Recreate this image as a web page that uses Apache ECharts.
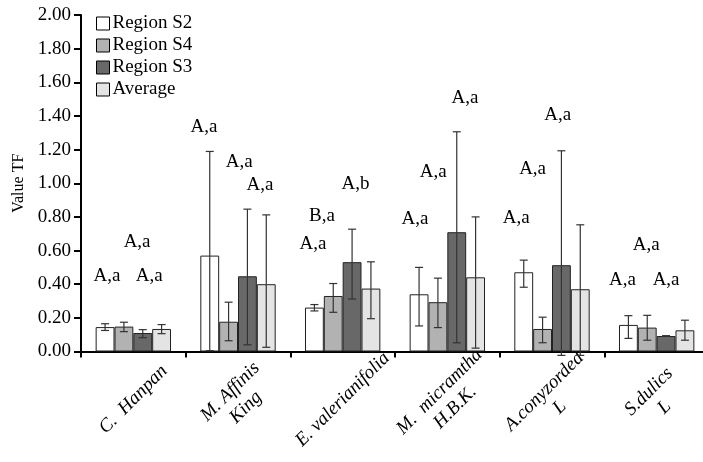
<!DOCTYPE html>
<html>
<head>
<meta charset="utf-8">
<script src="https://cdn.jsdelivr.net/npm/echarts@6/dist/echarts.min.js"></script>
<style>html,body{margin:0;padding:0;background:#fff;}#c{width:703px;height:462px;}</style>
</head>
<body>
<div id="c"></div>
<script>
const categories = ['C.  Hanpan', 'M. Affinis\nKing', 'E. valerianifolia', 'M.  micramtha\nH.B.K.', 'A.conyzorded\nL', 'S.dulics\nL'];
const seriesNames = ['Region S2', 'Region S4', 'Region S3', 'Average'];
const yTicks = [0, 0.2, 0.4, 0.6, 0.8, 1.0, 1.2, 1.4, 1.6, 1.8, 2.0];

const s2 = [0.145, 0.570, 0.261, 0.340, 0.471, 0.158];
const s2Low = [0.125, 0.005, 0.241, 0.152, 0.382, 0.078];
const s2High = [0.165, 1.189, 0.279, 0.500, 0.543, 0.213];
const s4 = [0.148, 0.177, 0.330, 0.293, 0.134, 0.142];
const s4Low = [0.118, 0.064, 0.233, 0.142, 0.052, 0.067];
const s4High = [0.174, 0.293, 0.404, 0.436, 0.204, 0.215];
const s3 = [0.110, 0.447, 0.531, 0.709, 0.513, 0.092];
const s3Low = [0.082, 0.040, 0.312, 0.052, -0.023, 0.090];
const s3High = [0.130, 0.846, 0.727, 1.306, 1.193, 0.094];
const avg = [0.134, 0.400, 0.374, 0.441, 0.370, 0.126];
const avgLow = [0.106, 0.025, 0.195, 0.020, -0.023, 0.067];
const avgHigh = [0.160, 0.812, 0.533, 0.800, 0.753, 0.186];

const annoText = ['A,a','A,a','A,a', 'A,a','A,a','A,a', 'A,a','B,a','A,b', 'A,a','A,a','A,a', 'A,a','A,a','A,a', 'A,a','A,a','A,a'];
const annoCat = [0,0,0, 1,1,1, 2,2,2, 3,3,3, 4,4,4, 5,5,5];
const annoSlot = [0.1,1.7,2.34, -0.31,1.56,2.67, -0.08,0.4,2.18, -0.22,0.75,2.44, -0.4,0.47,1.8, -0.31,0.95,2.0];
const annoValue = [0.449,0.652,0.449, 1.336,1.128,0.991, 0.64,0.808,0.996, 0.789,1.064,1.507, 0.793,1.086,1.408, 0.426,0.634,0.426];

const values = [s2, s4, s3, avg];
const lows = [s2Low, s4Low, s3Low, avgLow];
const highs = [s2High, s4High, s3High, avgHigh];
const colors = ['#ffffff', '#b2b2b2', '#686868', '#e4e4e4'];
const FONT = '"Liberation Serif", "Times New Roman", serif';
const GAP = 0.28;

const errData = [];
for (let s = 0; s < 4; s++) {
  for (let i = 0; i < categories.length; i++) {
    errData.push([i, lows[s][i], highs[s][i], s]);
  }
}
const annoData = annoCat.map((c, k) => [c, annoValue[k], annoSlot[k]]);

const chart = echarts.init(document.getElementById('c'), null, {renderer: 'canvas'});
const series = seriesNames.map((n, s) => ({
  name: n,
  type: 'bar',
  data: values[s],
  barGap: 0,
  barCategoryGap: (GAP * 100) + '%',
  itemStyle: {color: colors[s], borderColor: '#222', borderWidth: 1},
  emphasis: {disabled: true},
  animation: false
}));
series.push({
  type: 'custom',
  name: 'err',
  data: errData,
  clip: false,
  z: 5,
  encode: {x: 0, y: [1, 2]},
  renderItem: function (params, api) {
    const cat = api.value(0);
    const band = api.size([1, 0])[0];
    const bw = band * (1 - GAP) / 4;
    const slot = api.value(3);
    const base = api.coord([cat, 0]);
    const x = base[0] + (slot - 1.5) * bw;
    const yLo = api.coord([cat, api.value(1)])[1];
    const yHi = api.coord([cat, api.value(2)])[1];
    const cap = 4;
    const st = {stroke: '#333', lineWidth: 1.2};
    return {
      type: 'group',
      children: [
        {type: 'line', shape: {x1: x, y1: yLo, x2: x, y2: yHi}, style: st},
        {type: 'line', shape: {x1: x - cap, y1: yHi, x2: x + cap, y2: yHi}, style: st},
        {type: 'line', shape: {x1: x - cap, y1: yLo, x2: x + cap, y2: yLo}, style: st}
      ]
    };
  },
  animation: false
});
series.push({
  type: 'custom',
  name: 'anno',
  data: annoData,
  clip: false,
  z: 6,
  encode: {x: 0, y: 1},
  renderItem: function (params, api) {
    const cat = api.value(0);
    const band = api.size([1, 0])[0];
    const bw = band * (1 - GAP) / 4;
    const p = api.coord([cat, api.value(1)]);
    const x = p[0] + (api.value(2) - 1.5) * bw;
    return {
      type: 'text',
      style: {
        x: x, y: p[1],
        text: annoText[params.dataIndex],
        fill: '#000',
        font: '19px ' + FONT,
        align: 'center',
        verticalAlign: 'middle'
      }
    };
  },
  animation: false
});

chart.setOption({
  backgroundColor: '#fff',
  animation: false,
  textStyle: {fontFamily: FONT},
  grid: {left: 81, right: -6, top: 15, bottom: 110.5, containLabel: false, outerBoundsMode: 'none'},
  legend: {
    data: seriesNames,
    orient: 'vertical',
    left: 91,
    top: 9,
    itemWidth: 13,
    itemHeight: 13,
    itemGap: 3,
    icon: 'rect',
    itemStyle: {borderColor: '#000', borderWidth: 1},
    textStyle: {fontFamily: FONT, fontSize: 19, color: '#000', lineHeight: 18, padding: [0, 0, 0, -2]},
    selectedMode: false
  },
  xAxis: {
    type: 'category',
    data: categories,
    axisLine: {lineStyle: {color: '#000', width: 2}},
    axisTick: {show: true, length: 6, lineStyle: {color: '#000', width: 2}},
    axisLabel: {
      interval: 0,
      rotate: 45,
      align: 'center',
      verticalAlign: 'middle',
      margin: 48,
      fontFamily: FONT,
      fontStyle: 'italic',
      fontWeight: 'normal',
      fontSize: 19,
      color: '#000',
      lineHeight: 22
    },
    splitLine: {show: false}
  },
  yAxis: {
    type: 'value',
    min: yTicks[0],
    max: yTicks[yTicks.length - 1],
    interval: 0.2,
    name: 'Value TF',
    nameLocation: 'middle',
    nameGap: 52,
    nameRotate: 90,
    nameTextStyle: {fontFamily: FONT, fontSize: 16, color: '#000'},
    axisLine: {show: true, lineStyle: {color: '#000', width: 2}},
    axisTick: {show: true, length: 7, lineStyle: {color: '#000', width: 2}},
    axisLabel: {
      fontFamily: FONT, fontSize: 19, fontWeight: 'normal', color: '#000', margin: 10,
      formatter: v => v.toFixed(2)
    },
    splitLine: {show: false}
  },
  series: series
});
</script>
</body>
</html>
